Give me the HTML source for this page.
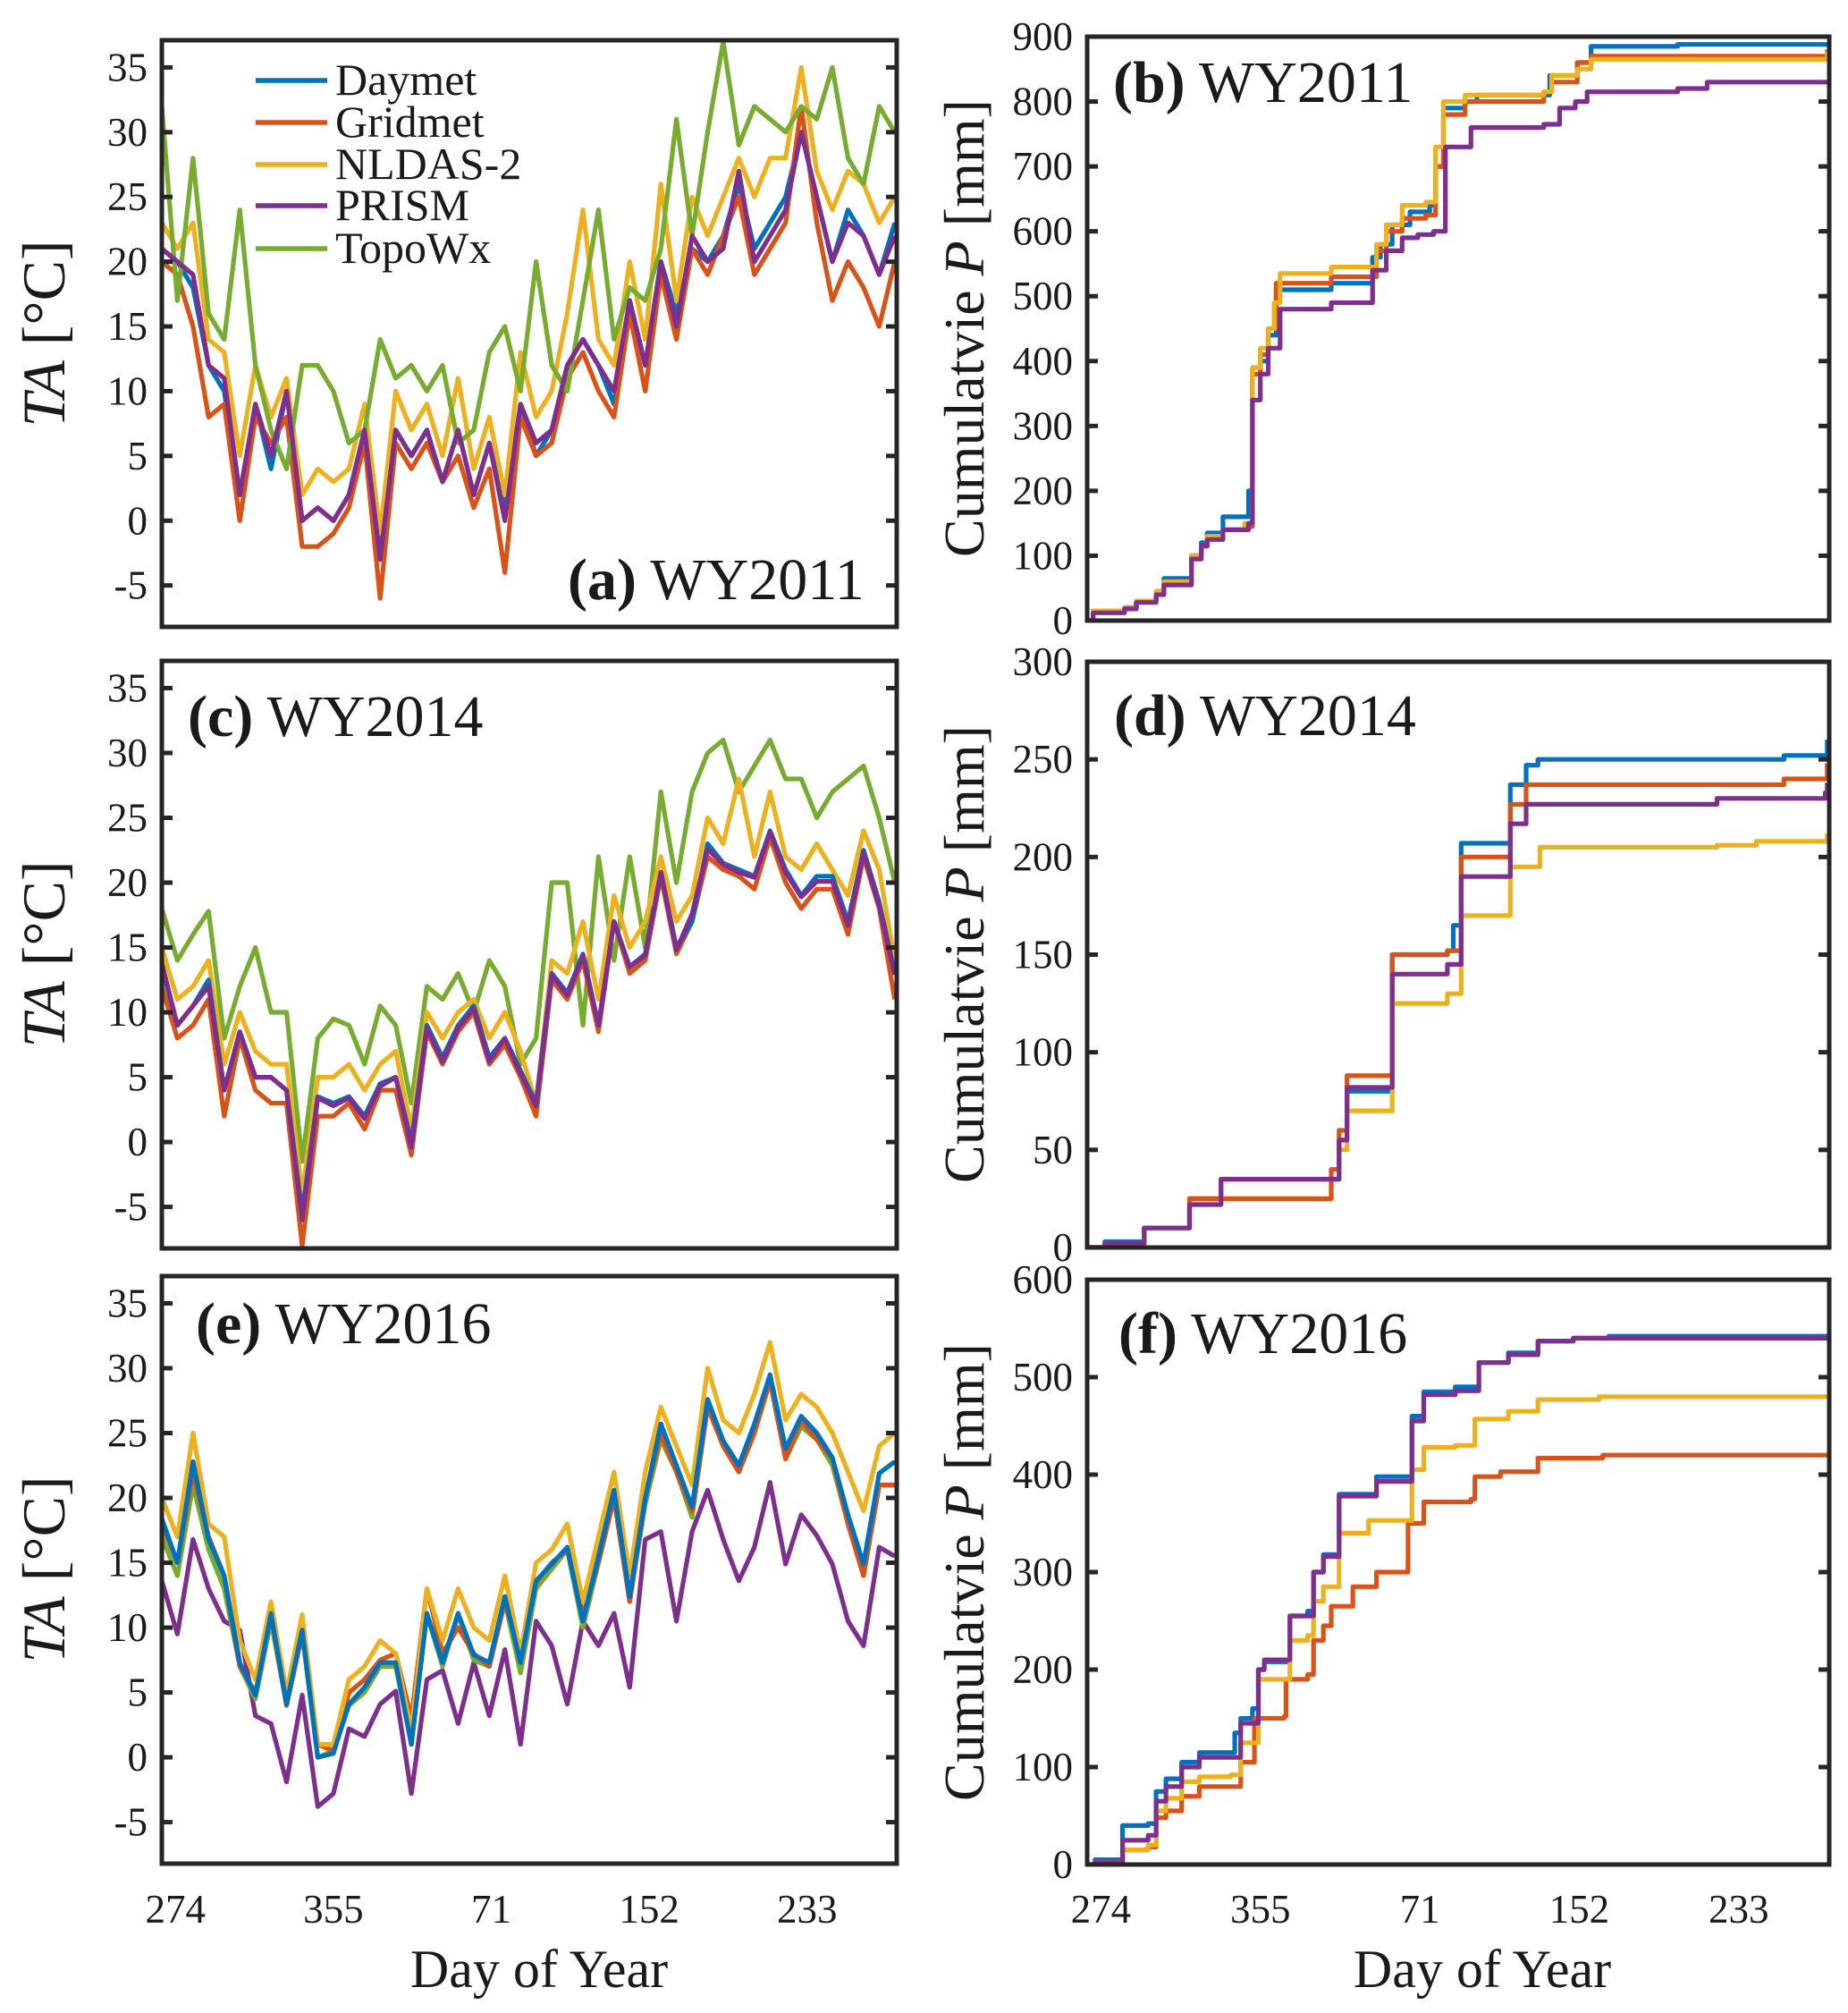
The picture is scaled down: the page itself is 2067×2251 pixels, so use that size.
<!DOCTYPE html>
<html><head><meta charset="utf-8"><style>
html,body{margin:0;padding:0;background:#fff}
svg{display:block}
text{font-family:"Liberation Serif","DejaVu Serif",serif;fill:#1a1a1a}
</style></head><body>
<svg id="fig" width="2067" height="2251" viewBox="0 0 2067 2251" xmlns="http://www.w3.org/2000/svg"></svg>
<script>
// ---------- data ----------
const seriesNames = ["Daymet","Gridmet","NLDAS-2","PRISM","TopoWx"];
const seriesColors = ["#0072BD","#D95319","#EDB120","#7E2F8E","#77AC30"];
const xTickLabels = ["274","355","71","152","233"];
const xTickDays = [7,88,169,250,331];
const tDays = [0,8,16,24,32,40,48,56,64,72,80,88,96,104,112,120,128,136,144,152,160,168,176,184,192,200,208,216,224,232,240,248,256,264,272,280,288,296,304,312,320,328,336,344,352,360,368,376];
const tempTicks = [-5,0,5,10,15,20,25,30,35];

// WY2011 temperature
const aDaymet = [21,20,18,12,10,2,9,4,10,0,1,0,2,7,-2,7,5,7,3,7,2,6,1,9,5,7,12,14,12,9,17,12,20,16,21,20,22,26,21,23,25,30,25,20,24,22,19,23];
const aGridmet = [20,19,15,8,9,0,8,6,8,-2,-2,-1,1,6,-6,6,4,6,3,5,1,4,-4,8,5,6,11,13,10,8,16,10,19,14,21,19,22,25,19,21,23,32,23,17,20,18,15,20];
const aNldas = [23,21,23,14,13,5,12,8,11,2,4,3,4,9,-1,10,7,9,5,11,4,8,2,13,8,10,16,24,14,12,20,14,26,17,25,22,25,28,25,28,28,35,27,24,27,26,23,25];
const aPrism = [21,20,19,12,11,2,9,5,10,0,1,0,2,7,-3,7,5,7,3,7,2,6,0,9,6,7,12,14,12,10,17,12,20,15,22,20,21,27,20,22,24,30,25,20,23,22,19,22];
const aTopo = [32,17,28,16,14,24,12,7,4,12,12,10,6,7,14,11,12,10,12,6,7,13,15,10,20,12,10,17,24,14,18,17,21,31,22,30,37,29,32,31,30,32,31,35,28,26,32,30];
// WY2014 temperature
const cDaymet = [13.5,9,10.5,12.5,4,8.5,5,5,4,-5.5,3.5,3,3.5,2,4.5,5,0,9,6.5,9,10.5,6.5,8,5.5,3,13,11.5,14.5,9,17,13.5,14.5,20.8,15,17,23,21.5,21,20.5,24,21,19,20.5,20.5,17,22.5,18.5,13];
const cGridmet = [12,8,9,11,2,8,4,3,3,-8,2,2,3,1,4,4,-1,8.5,6,8.5,10,6,7.5,5,2,12.5,11,14,8.5,17,13,14,20.5,14.5,17,22,21,20.5,19.5,23.5,20,18,19.5,19.5,16,22,18,11];
const cNldas = [15,11,12,14,6,10,7,6,6,-4,5,5,6,4,6,7,1,10,8,10,11,8,10,7,3,14,13,17,11,19,15,17,22,17,19,25,23,28,22,27,22,21,23,21,19,24,21,14];
const cPrism = [13.8,9,10.5,12,4,8.5,5,5,4,-6,3.4,2.8,3.4,1.8,4.3,5,-0.4,8.8,6.2,8.8,10.3,6.2,8,5.3,2.8,12.9,11.3,14.4,9,17,13.5,14.4,20.8,14.8,17.6,22.6,21.4,20.8,20.4,23.9,20.8,18.9,20.1,20.1,16.7,22.3,18.2,12.9];
const cTopo = [18,14,16,17.8,8,12,15,10,10,-1.5,8,9.5,9,6,10.5,9,3,12,11,13,10,14,12,6,8,20,20,9,22,14,22,15,27,20,27,30,31,27,29,31,28,28,25,27,28,29,25,20];
// WY2016 temperature
const eDaymet = [18.4,15,22.8,16.8,14,7.3,4.8,11.1,4.1,9.8,0,0.3,4.1,5.4,7.3,7.3,1,11.1,7.3,11.1,7.9,7.3,12.4,7.3,13.6,14.9,16.2,10.5,15.5,20.6,12.4,20,25.7,22.5,19.3,27.6,24.4,22.5,25.7,29.5,23.8,26.3,25,23.1,18.7,14.9,21.9,22.8];
const eGridmet = [18,15,22,17,14,7,5,11,4,9.5,1,0.5,5,6,7.5,8,3,13,8,10,8,7,12,8,13.5,15,16,11,15,20,12,20,25,22,19,27,24,22,25,29,23,26,24.5,23,18,14,21,21];
const eNldas = [20,17,25,18,17,9,6,12,5,11,1,1,6,7,9,8,2,13,9,13,10,9,14,8,15,16,18,12,17,22,14,22,27,24,21,30,26,25,28,32,26,28,27,25,22,19,24,25];
const ePrism = [13.6,9.5,16.8,13,10.5,9.8,3.2,2.6,-1.9,4.8,-3.8,-2.8,2.2,1.6,4.1,5.1,-2.8,6,6.7,2.6,7.3,3.2,8.3,1,10.5,8.6,4.1,10.5,8.6,11.1,5.4,16.8,17.4,10.5,17.4,20.6,16.8,13.6,16.2,21.2,14.9,18.7,17.1,14.9,10.5,8.6,16.2,15.5];
const eTopo = [17,14,21,16,13,7,4.5,10.5,4,9.5,0,0.5,4,5,7,7,1,11,7,11,7.5,7,12,6.5,13,14.5,16,10,15,20,12,19.5,24.5,22,18.5,27,24,22,25,29,23,25.5,24.5,22.5,18,14,21,21];

// WY2011 cumulative P (step points)
const bDaymetDays = [0,3,19,25,35,39,52,53,58,61,69,78,82,84,88,92,96,124,143,145,149,155,164,174,177,181,192,198,232,235,249,256,300,376];
const bDaymetVals = [0,15,20,30,45,65,65,100,120,135,160,160,200,380,400,440,510,520,520,560,580,610,630,640,700,790,800,810,810,840,860,885,888,890];
const bGridmetDays = [0,3,19,25,35,39,53,58,61,69,80,84,88,92,96,124,143,147,152,160,172,177,181,192,232,236,249,256,376];
const bGridmetVals = [0,15,20,30,45,60,100,115,130,140,145,380,410,450,520,530,530,570,600,620,625,700,780,800,815,830,860,870,880];
const bNldasDays = [0,3,19,25,35,39,53,58,61,69,80,84,88,92,95,98,124,143,147,152,160,172,177,181,192,232,236,249,256,376];
const bNldasVals = [0,15,20,30,45,60,100,115,130,140,150,390,420,450,490,535,545,545,580,610,640,645,730,800,810,815,840,850,865,878];
const bPrismDays = [0,3,19,25,35,39,53,58,61,69,82,84,88,92,98,124,143,145,152,160,168,176,182,195,232,240,248,254,300,315,376];
const bPrismVals = [0,12,18,28,40,55,95,115,125,140,150,340,380,420,480,490,490,540,570,590,595,600,730,760,765,790,800,815,820,830,830];
// WY2014 cumulative P
const dDaymetDays = [0,9,29,52,68,124,128,132,155,183,186,190,213,215,223,229,354,376];
const dDaymetVals = [0,3,10,25,35,35,55,80,150,152,165,207,207,237,247,250,252,260];
const dGridmetDays = [0,9,29,52,124,128,132,155,183,190,213,215,223,354,376];
const dGridmetVals = [0,2,10,25,40,60,88,150,152,200,200,227,237,240,248];
const dNldasDays = [0,9,29,52,68,124,128,132,155,183,190,213,215,230,320,340,376];
const dNldasVals = [0,2,10,22,35,35,50,70,125,130,170,170,195,205,206,208,212];
const dPrismDays = [0,9,29,52,68,124,128,132,155,183,190,213,215,223,320,375,376];
const dPrismVals = [0,2,10,22,35,35,55,82,140,145,190,190,217,227,230,233,238];
// WY2016 cumulative P
const fDaymetDays = [0,4,15,18,31,35,40,48,57,73,75,78,84,87,90,100,103,112,115,120,126,128,145,147,160,165,171,187,196,199,214,229,247,265,376];
const fDaymetVals = [0,5,5,40,42,75,88,105,115,115,135,150,160,200,208,208,255,260,300,318,318,380,380,398,398,460,485,490,490,515,525,537,540,542,543];
const fGridmetDays = [0,4,18,31,35,40,48,57,73,78,85,100,101,112,115,120,124,135,147,159,163,171,195,197,210,229,262,376];
const fGridmetVals = [0,2,15,18,48,55,70,80,80,105,150,152,190,195,230,245,265,285,300,300,350,372,375,398,403,417,420,421];
const fNldasDays = [0,4,18,31,35,40,48,57,73,78,87,100,103,112,115,120,128,143,160,165,171,187,197,214,229,260,376];
const fNldasVals = [0,2,15,20,55,68,85,90,92,125,190,190,230,235,270,285,340,353,353,405,428,430,457,465,477,480,481];
const fPrismDays = [0,4,18,31,35,40,48,57,78,87,90,100,103,115,120,128,147,165,171,187,199,214,229,247,376];
const fPrismVals = [0,2,25,30,65,80,100,110,145,200,210,210,255,300,316,378,393,455,482,486,515,523,537,540,543];

// ---------- drawing ----------
const NS = "http://www.w3.org/2000/svg";
const svg = document.getElementById("fig");
const XDOM = [0, 377];
function mk(tag, attrs, parent){
  const e = document.createElementNS(NS, tag);
  for (const k in attrs) e.setAttribute(k, attrs[k]);
  (parent || svg).appendChild(e);
  return e;
}
function txt(s, x, y, size, parent, anchor, weight){
  const t = mk("text", {x:x, y:y, "font-size":size, "text-anchor":anchor||"start"}, parent);
  if (weight) t.setAttribute("font-weight", weight);
  t.textContent = s;
  return t;
}

function panel(id, box, ylim, ticks, showX){
  const g = mk("g", {});
  
  
  const xs = d => box.l + (d - XDOM[0]) / (XDOM[1] - XDOM[0]) * (box.r - box.l);
  const ys = v => box.b - (v - ylim[0]) / (ylim[1] - ylim[0]) * (box.b - box.t);
  const cp = mk("clipPath", {id:"clip-" + id}, g);
  mk("rect", {x:box.l, y:box.t, width:box.r-box.l, height:box.b-box.t}, cp);
  const lines = mk("g", {"clip-path":"url(#clip-" + id + ")"}, g);
  
  
  const yt = mk("g", {}, g);
  
  
  ticks.forEach(v => {
    const y = ys(v);
    mk("line", {x1:box.l, x2:box.l + 12, y1:y, y2:y, stroke:"#262626", "stroke-width":5}, yt);
    mk("line", {x1:box.r - 12, x2:box.r, y1:y, y2:y, stroke:"#262626", "stroke-width":5}, yt);
    const t = txt(String(v), box.l - 16, y + 15, 45, yt, "end");
    
    
  });
  if (showX){
    const xt = mk("g", {}, g);
    
    
    xTickDays.forEach((d, i) => {
      const t = txt(xTickLabels[i], xs(d), 2150, 45, xt, "middle");
      
      
    });
  }
  const frame = mk("rect", {x:box.l, y:box.t, width:box.r - box.l, height:box.b - box.t, fill:"none", stroke:"#262626", "stroke-width":5}, g);
  
  
  return {g, lines, xs, ys};
}

function linePlot(p, days, vals, color, name){
  let d = "";
  vals.forEach((v, i) => { d += (i ? "L" : "M") + p.xs(days[i]).toFixed(1) + "," + p.ys(v).toFixed(1); });
  const path = mk("path", {d:d, fill:"none", stroke:color, "stroke-width":5.2, "stroke-linejoin":"round"}, p.lines);
  
  
}
function stepPlot(p, days, vals, color, name){
  let d = "M" + p.xs(days[0]).toFixed(1) + "," + p.ys(vals[0]).toFixed(1);
  for (let i = 1; i < days.length; i++){
    d += "H" + p.xs(days[i]).toFixed(1) + "V" + p.ys(vals[i]).toFixed(1);
  }
  const path = mk("path", {d:d, fill:"none", stroke:color, "stroke-width":5.2, "stroke-linejoin":"round"}, p.lines);
  
  
}

const TY = [-8.2, 37.1];
const L = {l:181, r:1003}, R = {l:1216, r:2046};
const pa = panel("a", {l:L.l, r:L.r, t:45, b:701}, TY, tempTicks, false);
const pc = panel("c", {l:L.l, r:L.r, t:739, b:1396}, TY, tempTicks, false);
const pe = panel("e", {l:L.l, r:L.r, t:1427, b:2084}, TY, tempTicks, true);
const pb = panel("b", {l:R.l, r:R.r, t:41, b:694}, [0,900], [0,100,200,300,400,500,600,700,800,900], false);
const pd = panel("d", {l:R.l, r:R.r, t:740, b:1395}, [0,300], [0,50,100,150,200,250,300], false);
const pf = panel("f", {l:R.l, r:R.r, t:1431, b:2085}, [0,600], [0,100,200,300,400,500,600], true);

linePlot(pa, tDays, aDaymet, seriesColors[0], "daymet-line-a");
linePlot(pa, tDays, aGridmet, seriesColors[1], "gridmet-line-a");
linePlot(pa, tDays, aNldas, seriesColors[2], "nldas-line-a");
linePlot(pa, tDays, aTopo, seriesColors[4], "topowx-line-a");
linePlot(pa, tDays, aPrism, seriesColors[3], "prism-line-a");
linePlot(pc, tDays, cTopo, seriesColors[4], "topowx-line-c");
linePlot(pc, tDays, cNldas, seriesColors[2], "nldas-line-c");
linePlot(pc, tDays, cGridmet, seriesColors[1], "gridmet-line-c");
linePlot(pc, tDays, cDaymet, seriesColors[0], "daymet-line-c");
linePlot(pc, tDays, cPrism, seriesColors[3], "prism-line-c");
linePlot(pe, tDays, ePrism, seriesColors[3], "prism-line-e");
linePlot(pe, tDays, eTopo, seriesColors[4], "topowx-line-e");
linePlot(pe, tDays, eGridmet, seriesColors[1], "gridmet-line-e");
linePlot(pe, tDays, eNldas, seriesColors[2], "nldas-line-e");
linePlot(pe, tDays, eDaymet, seriesColors[0], "daymet-line-e");
stepPlot(pb, bDaymetDays, bDaymetVals, seriesColors[0], "daymet-cum-b");
stepPlot(pb, bGridmetDays, bGridmetVals, seriesColors[1], "gridmet-cum-b");
stepPlot(pb, bNldasDays, bNldasVals, seriesColors[2], "nldas-cum-b");
stepPlot(pb, bPrismDays, bPrismVals, seriesColors[3], "prism-cum-b");
stepPlot(pd, dDaymetDays, dDaymetVals, seriesColors[0], "daymet-cum-d");
stepPlot(pd, dGridmetDays, dGridmetVals, seriesColors[1], "gridmet-cum-d");
stepPlot(pd, dNldasDays, dNldasVals, seriesColors[2], "nldas-cum-d");
stepPlot(pd, dPrismDays, dPrismVals, seriesColors[3], "prism-cum-d");
stepPlot(pf, fDaymetDays, fDaymetVals, seriesColors[0], "daymet-cum-f");
stepPlot(pf, fGridmetDays, fGridmetVals, seriesColors[1], "gridmet-cum-f");
stepPlot(pf, fNldasDays, fNldasVals, seriesColors[2], "nldas-cum-f");
stepPlot(pf, fPrismDays, fPrismVals, seriesColors[3], "prism-cum-f");

// legend in panel a
const leg = mk("g", {});


const legY = [90, 137, 184, 230, 278];
seriesNames.forEach((n, i) => {
  const e = mk("g", {}, leg);
  
  
  mk("line", {x1:286, x2:366, y1:legY[i], y2:legY[i], stroke:seriesColors[i], "stroke-width":5.5}, e);
  txt(n, 375, legY[i] + 16, 50, e);
});

function plabel(letter, rest, x, y, name){
  const t = mk("text", {x:x, y:y, "font-size":66});
  
  
  const b = document.createElementNS(NS, "tspan");
  b.setAttribute("font-weight", "bold");
  b.textContent = letter;
  t.appendChild(b);
  t.appendChild(document.createTextNode(" " + rest));
}
plabel("(a)", "WY2011", 635, 670, "panel-label-a");
plabel("(b)", "WY2011", 1245, 114, "panel-label-b");
plabel("(c)", "WY2014", 210, 823, "panel-label-c");
plabel("(d)", "WY2014", 1246, 822, "panel-label-d");
plabel("(e)", "WY2016", 219, 1502, "panel-label-e");
plabel("(f)", "WY2016", 1251, 1513, "panel-label-f");

function ytitle(cx, cy, size, main, italic, tail, name){
  const t = mk("text", {x:0, y:0, "font-size":size, "text-anchor":"middle", transform:"translate(" + cx + "," + cy + ") rotate(-90)"});
  
  
  if (main) t.appendChild(document.createTextNode(main));
  const it = document.createElementNS(NS, "tspan");
  it.setAttribute("font-style", "italic");
  it.textContent = italic;
  t.appendChild(it);
  t.appendChild(document.createTextNode(tail));
}
ytitle(72, 373, 68, "", "TA", " [°C]", "y-axis-title-a");
ytitle(72, 1067, 68, "", "TA", " [°C]", "y-axis-title-c");
ytitle(72, 1755, 68, "", "TA", " [°C]", "y-axis-title-e");
ytitle(1100, 367, 64, "Cumulatvie ", "P", " [mm]", "y-axis-title-b");
ytitle(1100, 1067, 64, "Cumulatvie ", "P", " [mm]", "y-axis-title-d");
ytitle(1100, 1758, 64, "Cumulatvie ", "P", " [mm]", "y-axis-title-f");
const xl1 = txt("Day of Year", 603, 2222, 60, svg, "middle");


const xl2 = txt("Day of Year", 1658, 2222, 60, svg, "middle");


</script>
</body></html>
